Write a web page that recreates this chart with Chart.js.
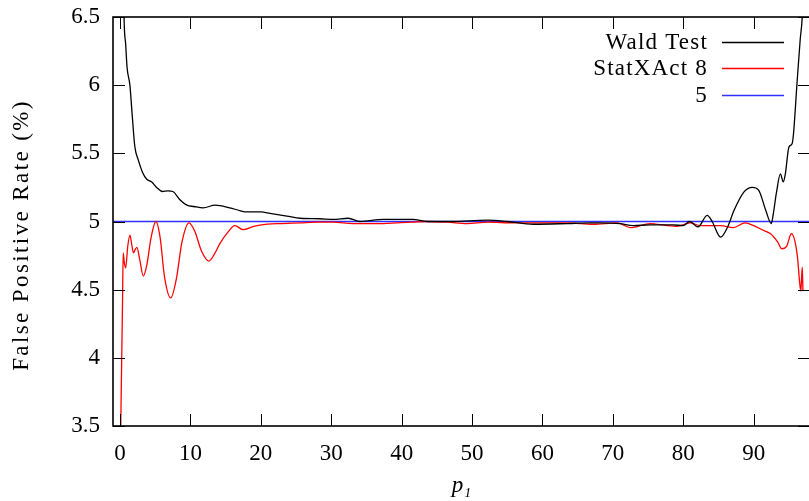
<!DOCTYPE html>
<html><head><meta charset="utf-8">
<script src="https://cdn.jsdelivr.net/npm/chart.js@4.4.0/dist/chart.umd.min.js"></script>
<style>
html,body{margin:0;padding:0;background:#fff;overflow:hidden;width:809px;height:501px}
#wrap{position:relative;width:812px;height:501px}
</style></head><body>
<div id="wrap"><canvas id="c"></canvas></div>
<script>
// ---- data ----
const xTicks = [0, 10, 20, 30, 40, 50, 60, 70, 80, 90];
const yTicks = [3.5, 4, 4.5, 5, 5.5, 6, 6.5];
const seriesNames = ['Wald Test', 'StatXAct 8', '5'];
const yTitle = 'False Positive Rate (%)';
const xTitle = 'p₁';

const waldX = [0.4, 0.57, 0.8, 1.0, 1.4, 1.7, 2.1, 2.6, 3.2, 3.8, 4.5, 5.2, 6.0, 6.8, 7.5, 8.5, 9.5, 10.5, 11.8, 13.5, 15.6, 17, 18, 20, 21.3, 23.7, 25.6, 28.4, 30.3, 32.4, 34.1, 37.4, 41.6, 43.6, 46.9, 52.2, 55, 58.7, 63.5, 66.8, 68.2, 71.0, 72.9, 75.3, 78.6, 80, 80.9, 82.1, 83.4, 84.1, 85.3, 86.3, 87.2, 88.6, 89.8, 90.7, 91.7, 92.5, 92.8, 93.2, 93.8, 94.2, 94.5, 95.0, 95.45, 95.65, 96.15, 96.6, 96.9, 97.2];
const waldY = [7.2, 6.5, 6.3, 6.13, 6.0, 5.8, 5.55, 5.45, 5.36, 5.31, 5.29, 5.25, 5.22, 5.225, 5.22, 5.16, 5.12, 5.11, 5.10, 5.12, 5.10, 5.08, 5.07, 5.07, 5.06, 5.04, 5.024, 5.02, 5.015, 5.024, 5.0, 5.015, 5.015, 5.0, 5.0, 5.01, 5.0, 4.98, 4.985, 4.99, 4.99, 4.985, 4.97, 4.975, 4.975, 4.97, 5.0, 4.96, 5.045, 5.0, 4.885, 4.96, 5.08, 5.215, 5.25, 5.23, 5.085, 4.985, 5.06, 5.2, 5.35, 5.29, 5.35, 5.545, 5.57, 5.64, 6.01, 6.33, 6.5, 6.9];

const statX = [0.1, 0.35, 0.45, 0.6, 0.8, 1.1, 1.4, 1.7, 1.9, 2.2, 2.4, 2.8, 3.3, 3.8, 4.4, 5.1, 5.7, 6.3, 7.2, 8.0, 8.8, 9.8, 10.6, 11.6, 12.6, 13.4, 14.2, 15.3, 16.3, 17.5, 19, 20.9, 23, 25.6, 28, 30.3, 33.1, 35, 37.4, 39.3, 41.5, 43.6, 46.5, 49.3, 52.2, 55.9, 59.7, 63.5, 67.2, 70.6, 72.5, 75.3, 77.7, 79.1, 81.0, 82.4, 83.8, 85.3, 87.1, 88.8, 90.0, 91.4, 92.4, 93.4, 94.0, 94.7, 95.35, 96.2, 96.5, 96.7, 96.9, 97.0];
const statY = [3.5, 4.4, 4.77, 4.7, 4.66, 4.82, 4.90, 4.82, 4.77, 4.80, 4.81, 4.72, 4.60, 4.68, 4.88, 5.0, 4.88, 4.6, 4.44, 4.58, 4.85, 4.99, 4.93, 4.78, 4.71, 4.76, 4.84, 4.92, 4.97, 4.94, 4.965, 4.98, 4.985, 4.99, 4.995, 4.995, 4.985, 4.985, 4.985, 4.99, 4.995, 5.0, 4.995, 4.985, 4.995, 4.99, 4.99, 4.99, 4.98, 4.99, 4.955, 4.985, 4.97, 4.965, 4.99, 4.97, 4.97, 4.97, 4.955, 4.99, 4.97, 4.935, 4.91, 4.85, 4.80, 4.82, 4.91, 4.75, 4.57, 4.49, 4.665, 4.49];

const refX = [-1, 98];
const refY = [5, 5];

const xMin = -1, xMax = 98, yMin = 3.5, yMax = 6.5;

// ---- build ----
const pts = (xs, ys) => xs.map((x, i) => ({x, y: ys[i]}));
const FONT = 'Liberation Serif';

const framePlugin = {
  id: 'frame',
  afterDatasetsDraw(chart) {
    const {ctx, chartArea: a, scales: {x, y}} = chart;
    ctx.save();
    ctx.strokeStyle = '#000';
    ctx.lineWidth = 1;
    const tl = 12;
    ctx.beginPath();
    xTicks.forEach(v => {
      const p = Math.round(x.getPixelForValue(v)) + 0.5;
      ctx.moveTo(p, a.bottom); ctx.lineTo(p, a.bottom - tl);
      ctx.moveTo(p, a.top); ctx.lineTo(p, a.top + tl);
    });
    yTicks.forEach(v => {
      const p = Math.round(y.getPixelForValue(v)) + 0.5;
      ctx.moveTo(a.left, p); ctx.lineTo(a.left + tl, p);
      ctx.moveTo(a.right, p); ctx.lineTo(a.right - tl, p);
    });
    ctx.stroke();
    ctx.lineWidth = 1.6;
    ctx.strokeRect(a.left, a.top, a.right - a.left, a.bottom - a.top);

    // y axis title
    ctx.fillStyle = '#000';
    ctx.font = '23px "' + FONT + '"';
    ctx.textAlign = 'center';
    ctx.textBaseline = 'middle';
    ctx.save();
    ctx.translate(22, 236);
    ctx.rotate(-Math.PI / 2);
    ctx.letterSpacing = '2.4px';
    ctx.fillText(yTitle, 1, 0);
    ctx.restore();

    // legend
    ctx.letterSpacing = '1.2px';
    ctx.textAlign = 'right';
    const rows = [42, 68, 95];
    chart.data.datasets.forEach((ds, i) => {
      ctx.fillStyle = '#000';
      ctx.fillText(ds.label, 708, rows[i] + 1);
      ctx.strokeStyle = ds.borderColor;
      ctx.lineWidth = ds.borderWidth;
      ctx.beginPath();
      ctx.moveTo(722, rows[i] + 0.5); ctx.lineTo(784, rows[i] + 0.5);
      ctx.stroke();
    });
    ctx.restore();
  }
};

new Chart(document.getElementById('c'), {
  type: 'line',
  data: {
    datasets: [
      {label: seriesNames[0], data: pts(waldX, waldY), borderColor: '#000000', borderWidth: 1.3, pointRadius: 0, cubicInterpolationMode: 'monotone', fill: false},
      {label: seriesNames[1], data: pts(statX, statY), borderColor: '#ff0000', borderWidth: 1.3, pointRadius: 0, cubicInterpolationMode: 'monotone', fill: false},
      {label: seriesNames[2], data: pts(refX, refY), borderColor: '#3030ff', borderWidth: 1.5, pointRadius: 0, fill: false}
    ]
  },
  options: {
    responsive: true,
    maintainAspectRatio: false,
    devicePixelRatio: 1,
    animation: false,
    events: [],
    layout: {padding: {top: 17, right: 2, left: 0, bottom: 0}},
    plugins: {legend: {display: false}, tooltip: {enabled: false}},
    scales: {
      x: {
        type: 'linear', min: xMin, max: xMax,
        afterBuildTicks: s => { s.ticks = xTicks.map(v => ({value: v})); },
        afterFit: s => { s.height = 75; s.paddingLeft = 0; s.paddingRight = 0; },
        grid: {display: false, drawTicks: false},
        border: {display: false},
        ticks: {padding: 14, color: '#000', font: {family: FONT, size: 23}, maxRotation: 0, autoSkip: false},
        title: {display: true, text: xTitle, color: '#000', font: {family: FONT, size: 23, style: 'italic', lineHeight: 1.2}, padding: {top: 0, bottom: 1}}
      },
      y: {
        type: 'linear', min: yMin, max: yMax,
        afterBuildTicks: s => { s.ticks = yTicks.map(v => ({value: v})); },
        afterFit: s => { s.width = 113; s.paddingTop = 0; s.paddingBottom = 0; },
        grid: {display: false, drawTicks: false},
        border: {display: false},
        ticks: {padding: 13, color: '#000', font: {family: FONT, size: 23}, autoSkip: false, callback: v => String(v)},
        title: {display: false}
      }
    }
  },
  plugins: [framePlugin]
});
</script>
</body></html>
